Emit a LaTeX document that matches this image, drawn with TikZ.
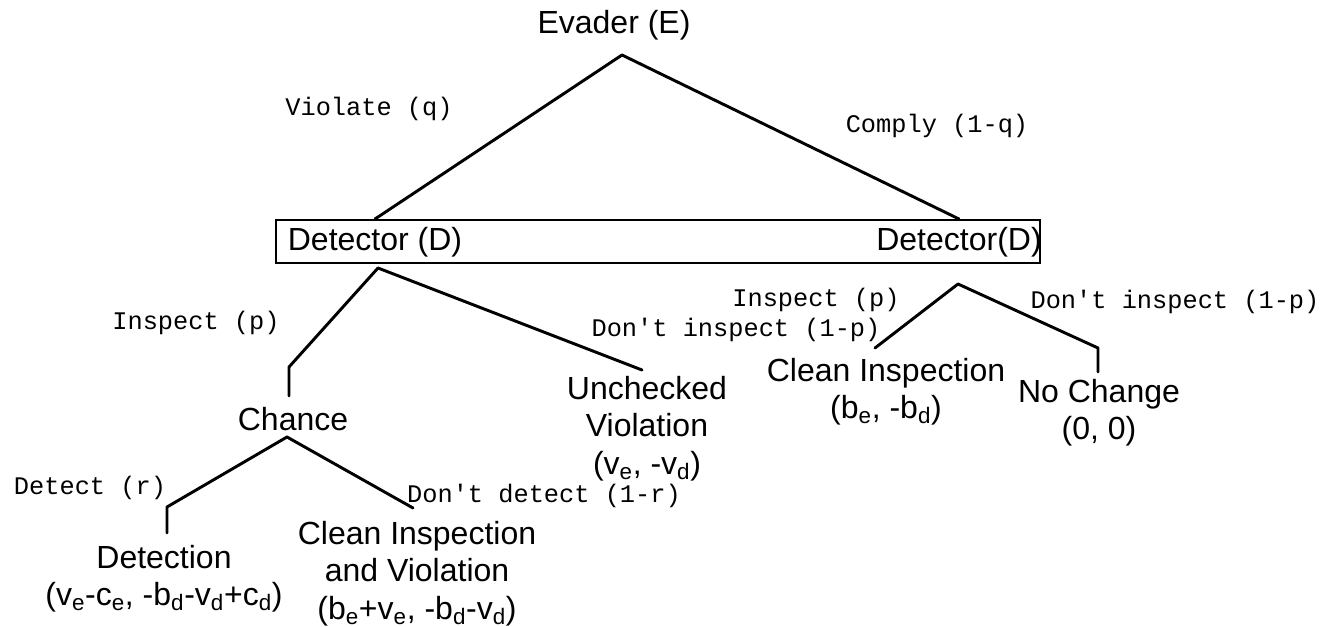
\documentclass[tikz,border=0pt]{standalone}
\usepackage{fontspec}
\setmainfont{Liberation Sans}
\newfontfamily\branchfont{Liberation Mono}
\usetikzlibrary{positioning}
\tikzset{
  outcome/.style={font=\fontsize{24pt}{28pt}\selectfont,align=center,inner sep=0pt},
  choice/.style={font=\fontsize{19pt}{22pt}\branchfont,inner sep=0pt},
  branch/.style={line width=2.2pt,line cap=round,line join=round},
  playerbox/.style={draw,line width=1.5pt,inner sep=0pt}
}

\begin{document}
\begin{tikzpicture}[x=0.75pt,y=-0.75pt]
    \useasboundingbox (0,0) rectangle (1330,627);

    \node[outcome] (evader) at (614,25) {Evader (E)};
    \node[playerbox,minimum width=573pt,minimum height=32.25pt] (detrow) at (658,241.5) {};
    \node[outcome] (detL) at (375,242) {Detector (D)};
    \node[outcome] (detR) at (959,242) {Detector(D)};

    \coordinate (evtop) at (622,55);
    \coordinate (dLtop) at (378,268);
    \coordinate (dRtop) at (958,284);
    \coordinate (inspHook) at (289,367);
    \coordinate (chanceTop) at (289,396);
    \coordinate (uncheckEnd) at (642,370);
    \coordinate (chApex) at (287,437);
    \coordinate (detHook) at (167,507);
    \coordinate (detTop) at (167,533);
    \coordinate (cleanViolEnd) at (413,508);
    \coordinate (cleanEnd) at (875,348);
    \coordinate (noChHook) at (1098,348);
    \coordinate (noChTop) at (1098,372);

    \draw[branch] (detL |- detrow.north) -- (evtop) -- (detR |- detrow.north);
    \draw[branch] (chanceTop) -- (inspHook) -- (dLtop) -- (uncheckEnd);
    \draw[branch] (detTop) -- (detHook) -- (chApex) -- (cleanViolEnd);
    \draw[branch] (cleanEnd) -- (dRtop) -- (noChHook) -- (noChTop);

    \node[choice] (violate) at (369,109) {Violate (q)};
    \node[choice] (comply) at (937,126) {Comply (1-q)};
    \node[choice] (inspL) at (196,323) {Inspect (p)};
    \node[choice] (noinspL) at (736,330) {Don't inspect (1-p)};
    \node[choice] (inspR) at (816,300) {Inspect (p)};
    \node[choice] (noinspR) at (1175,302) {Don't inspect (1-p)};
    \node[choice] (detect) at (90,488) {Detect (r)};
    \node[choice] (nodetect) at (544,496) {Don't detect (1-r)};

    \node[outcome] (chance) at (293,419) {Chance};
    \node[outcome,anchor=north] (unchecked) at (647,376) {Unchecked\\Violation\\(v\textsubscript{e}, -v\textsubscript{d})};
    \node[outcome,anchor=north] (detection) at (164,545) {Detection\\(v\textsubscript{e}-c\textsubscript{e}, -b\textsubscript{d}-v\textsubscript{d}+c\textsubscript{d})};
    \node[outcome,anchor=north] (cleanviol) at (417,521) {Clean Inspection\\and Violation\\(b\textsubscript{e}+v\textsubscript{e}, -b\textsubscript{d}-v\textsubscript{d})};
    \node[outcome,anchor=north] (cleaninsp) at (886,358) {Clean Inspection\\(b\textsubscript{e}, -b\textsubscript{d})};
    \node[outcome,anchor=north] (nochange) at (1099,379) {No Change\\(0, 0)};
\end{tikzpicture}
\end{document}
